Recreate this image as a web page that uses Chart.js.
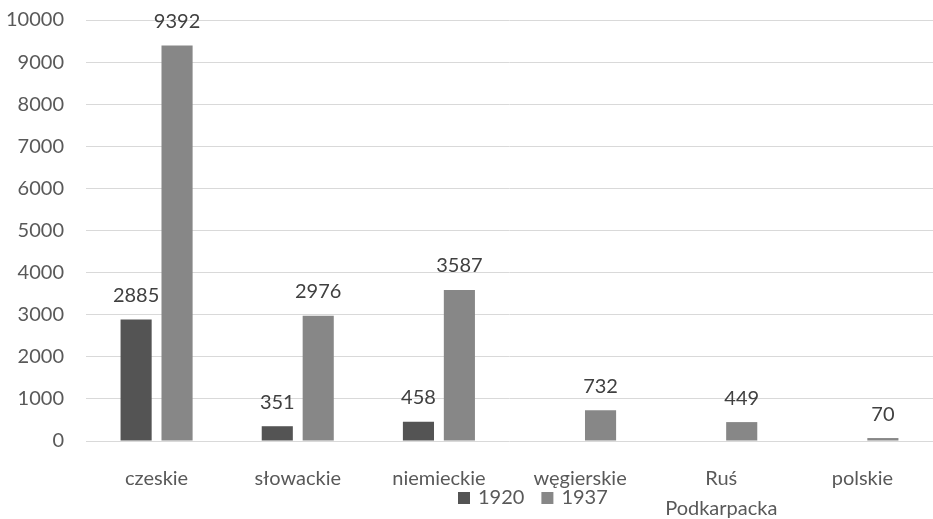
<!DOCTYPE html>
<html>
<head>
<meta charset="utf-8">
<script src="https://cdn.jsdelivr.net/npm/chart.js@4/dist/chart.umd.min.js"></script>
<style>
  html, body { margin: 0; padding: 0; background: #ffffff; overflow: hidden; }
  #wrap { width: 933px; height: 519px; position: relative; overflow: hidden; }
  #box { position: absolute; left: -23px; top: -14px; width: 956px; height: 553px; }
</style>
</head>
<body>
<div id="wrap"><div id="box"><canvas id="chart"></canvas></div></div>
<script>
// Szkolnictwo wg języka nauczania
const categories = ['czeskie', 'słowackie', 'niemieckie', 'węgierskie', ['Ruś', 'Podkarpacka'], 'polskie'];
const seriesNames = ['1920', '1937'];
const values1920 = [2885, 351, 458, null, null, null];
const values1937 = [9392, 2976, 3587, 732, 449, 70];
const yTicks = [0, 1000, 2000, 3000, 4000, 5000, 6000, 7000, 8000, 9000, 10000];

const FONT = 'Lato, "Open Sans", sans-serif';
const TEXT = '#595959';

// value labels above each bar
const valueLabels = {
  id: 'valueLabels',
  afterDatasetsDraw(chart) {
    const ctx = chart.ctx;
    ctx.save();
    ctx.font = '20px ' + FONT;
    ctx.fillStyle = '#404040';
    ctx.textAlign = 'center';
    ctx.textBaseline = 'middle';
    chart.data.datasets.forEach((ds, i) => {
      const meta = chart.getDatasetMeta(i);
      meta.data.forEach((bar, j) => {
        const v = ds.data[j];
        if (v === null || v === undefined) return;
        ctx.fillText(String(v), bar.x, bar.y - 24);
      });
    });
    ctx.restore();
  }
};

// legend placed between the category label lines, centred under the plot
const inlineLegend = {
  id: 'inlineLegend',
  afterDraw(chart) {
    const ctx = chart.ctx;
    ctx.save();
    ctx.font = '20px ' + FONT;
    ctx.textBaseline = 'middle';
    ctx.textAlign = 'left';
    const y = chart.chartArea.bottom + 57;
    let x = chart.chartArea.left + 372;
    chart.data.datasets.forEach((ds) => {
      ctx.fillStyle = ds.backgroundColor;
      ctx.fillRect(x, y - 6, 12, 12);
      ctx.fillStyle = TEXT;
      ctx.fillText(ds.label, x + 20, y);
      x += 20 + ctx.measureText(ds.label).width + 17;
    });
    ctx.restore();
  }
};

new Chart(document.getElementById('chart'), {
  type: 'bar',
  data: {
    labels: categories,
    datasets: [
      { label: seriesNames[0], data: values1920, backgroundColor: '#545454' },
      { label: seriesNames[1], data: values1937, backgroundColor: '#878787' }
    ]
  },
  options: {
    responsive: true,
    maintainAspectRatio: false,
    animation: false,
    layout: { padding: { left: 7, right: 0, top: -3, bottom: 0 } },
    datasets: { bar: { categoryPercentage: 0.58, barPercentage: 0.76 } },
    plugins: {
      legend: { display: false },
      tooltip: { enabled: false }
    },
    scales: {
      x: {
        grid: { display: false },
        border: { display: false },
        ticks: {
          color: TEXT,
          font: { family: FONT, size: 20, lineHeight: 1.5 },
          padding: 15,
          maxRotation: 0,
          autoSkip: false
        }
      },
      y: {
        min: 0,
        max: 10000,
        afterBuildTicks(scale) { scale.ticks = yTicks.map(v => ({ value: v })); },
        grid: { color: '#d9d9d9', lineWidth: 1, drawTicks: false },
        border: { display: false },
        ticks: {
          color: TEXT,
          font: { family: FONT, size: 20 },
          padding: 22,
          callback: (v) => String(v)
        }
      }
    }
  },
  plugins: [valueLabels, inlineLegend]
});
</script>
</body>
</html>
